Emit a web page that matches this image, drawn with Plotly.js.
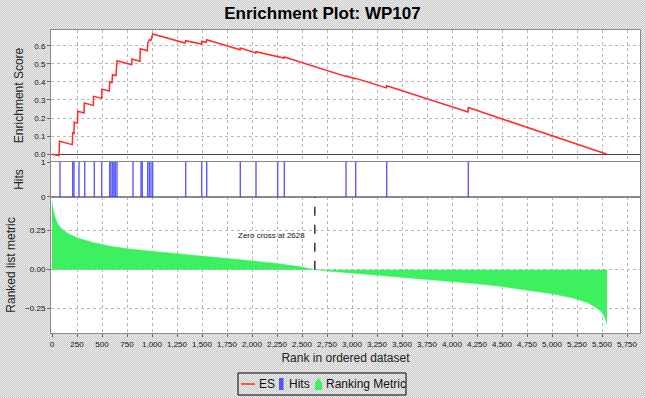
<!DOCTYPE html>
<html>
<head>
<meta charset="utf-8">
<script src="https://cdn.plot.ly/plotly-3.0.1.min.js"></script>
<style>
html,body{margin:0;padding:0;}
body{width:645px;height:398px;background:repeating-conic-gradient(#c4c4c4 0 25%, #f2f2f2 0 50%) 0 0/2px 2px;}
#chart{width:645px;height:398px;}
</style>
</head>
<body>
<div id="chart"></div>
<script>
// Running enrichment score (rank, ES)
const esRank  = [0, 70, 75, 203, 207, 220, 222, 255, 257, 320, 323, 413, 415, 497, 499, 573, 577, 600, 605, 640, 650, 797, 800, 880, 883, 953, 957, 975, 990, 1007, 1330, 1337, 1493, 1497, 1543, 1547, 1880, 1883, 2037, 2040, 2320, 2323, 2937, 2940, 3033, 3037, 3343, 3347, 4160, 4163, 5550];
const esValue = [0.0, -0.008, 0.072, 0.053, 0.118, 0.115, 0.177, 0.172, 0.238, 0.228, 0.283, 0.27, 0.32, 0.31, 0.36, 0.35, 0.40, 0.395, 0.44, 0.435, 0.517, 0.495, 0.527, 0.514, 0.583, 0.572, 0.615, 0.633, 0.63, 0.665, 0.615, 0.628, 0.609, 0.624, 0.62, 0.633, 0.578, 0.587, 0.56, 0.567, 0.532, 0.538, 0.43, 0.433, 0.417, 0.42, 0.367, 0.379, 0.234, 0.258, 0.0];

// Positions of the gene-set members (hits)
const hitRanks = [80, 207, 220, 270, 327, 423, 497, 577, 590, 607, 620, 633, 650, 810, 890, 903, 957, 973, 990, 1007, 1337, 1497, 1547, 1883, 2040, 2257, 2323, 2940, 3037, 3347, 4163];

// Ranked list metric (rank, value)
const metricRank  = [0, 10, 30, 60, 100, 150, 250, 400, 600, 800, 1000, 1250, 1500, 1750, 2000, 2250, 2500, 2628, 2750, 3000, 3250, 3500, 3750, 4000, 4250, 4500, 4750, 5000, 5200, 5350, 5450, 5500, 5530, 5550];
const metricValue = [0.44, 0.39, 0.34, 0.29, 0.26, 0.235, 0.205, 0.175, 0.148, 0.13, 0.118, 0.102, 0.088, 0.074, 0.058, 0.04, 0.017, 0.0, -0.008, -0.021, -0.034, -0.047, -0.06, -0.074, -0.09, -0.108, -0.13, -0.155, -0.18, -0.21, -0.245, -0.275, -0.31, -0.35];

const seriesNames = ['ES', 'Hits', 'Ranking Metric'];
const zeroCross = 2628;
const titleText = 'Enrichment Plot: WP107';

const FONT = 'Liberation Sans, Arial, sans-serif';
const xRange = [-10, 5880];
const ES_COLOR = '#ff2a2a', HIT_COLOR = 'rgba(50,50,255,0.8)', METRIC_COLOR = '#3cf060';

const traces = [
  {type:'scatter', mode:'lines', name:seriesNames[0], x:esRank, y:esValue,
   xaxis:'x2', yaxis:'y', line:{color:ES_COLOR, width:1.5}},
  {type:'bar', name:seriesNames[1], x:hitRanks, y:hitRanks.map(()=>1),
   xaxis:'x3', yaxis:'y2', width:14, marker:{color:HIT_COLOR, line:{width:0}}},
  {type:'scatter', mode:'lines', name:seriesNames[2], x:metricRank, y:metricValue,
   xaxis:'x', yaxis:'y3', fill:'tozeroy', fillcolor:METRIC_COLOR, line:{color:METRIC_COLOR, width:0.5}}
];

const gridCommon = {showgrid:true, gridcolor:'#b8b8b8', griddash:'dot', gridwidth:1,
  showline:true, linecolor:'#8a8a8a', linewidth:1, mirror:true, zeroline:false, automargin:false,
  tickfont:{size:8, family:FONT, color:'#111'}, ticks:'outside', ticklen:3, tickcolor:'#666'};

// pixel -> paper helpers for the hand-drawn legend box (plot area: x 51..640, y 30..333)
const px = v => (v - 51) / 589;
const py = v => (333 - v) / 303;

const legendShapes = [
  {type:'rect', xref:'paper', yref:'paper', x0:px(238), x1:px(406), y0:py(395), y1:py(373),
   line:{color:'#000', width:1}, fillcolor:'rgba(0,0,0,0)'},
  {type:'line', xref:'paper', yref:'paper', x0:px(241), x1:px(255), y0:py(384), y1:py(384),
   line:{color:ES_COLOR, width:1.5}},
  {type:'rect', xref:'paper', yref:'paper', x0:px(279), x1:px(283.5), y0:py(390), y1:py(378),
   line:{width:0}, fillcolor:HIT_COLOR},
  {type:'path', xref:'paper', yref:'paper',
   path:`M ${px(315)},${py(390)} L ${px(322)},${py(390)} L ${px(322)},${py(383)} L ${px(318.5)},${py(378)} L ${px(315)},${py(383)} Z`,
   line:{width:0}, fillcolor:METRIC_COLOR}
];
const legendLabels = [
  {x:px(257), text:seriesNames[0]},
  {x:px(287), text:seriesNames[1]},
  {x:px(324), text:seriesNames[2]}
].map(o => ({xref:'paper', yref:'paper', x:o.x, y:py(384), xanchor:'left', yanchor:'middle',
  text:o.text, showarrow:false, font:{size:12, family:FONT, color:'#111'}}));

const layout = {
  width:645, height:398,
  paper_bgcolor:'rgba(0,0,0,0)', plot_bgcolor:'#ffffff',
  margin:{l:51, r:5, t:30, b:65, autoexpand:false},
  showlegend:false,
  title:{text:'<b>'+titleText+'</b>', x:0.5, xanchor:'center', y:0.967, yanchor:'middle',
         font:{size:17, family:FONT, color:'#000'}},
  xaxis: Object.assign({}, gridCommon, {domain:[0,1], anchor:'y3', range:xRange, dtick:250, tick0:0,
         tickformat:',d', title:{text:'Rank in ordered dataset', font:{size:12, family:FONT, color:'#222'}, standoff:6}}),
  xaxis2: Object.assign({}, gridCommon, {domain:[0,1], anchor:'y', range:xRange, dtick:250, tick0:0,
         showticklabels:false, ticks:''}),
  xaxis3: Object.assign({}, gridCommon, {domain:[0,1], anchor:'y2', range:xRange, dtick:250, tick0:0,
         showticklabels:false, showgrid:false, ticks:''}),
  yaxis: Object.assign({}, gridCommon, {domain:[0.568,1], anchor:'x2', range:[-0.037,0.687], dtick:0.1, tick0:0,
         tickformat:'.1f', zeroline:true, zerolinecolor:'#444', zerolinewidth:1,
         title:{text:'Enrichment Score', font:{size:12, family:FONT, color:'#222'}, standoff:8}}),
  yaxis2: Object.assign({}, gridCommon, {domain:[0.449,0.564], anchor:'x3', range:[0,1], tickvals:[0,1], ticktext:['0','1'],
         showgrid:false,
         title:{text:'Hits', font:{size:12, family:FONT, color:'#222'}, standoff:14}}),
  yaxis3: Object.assign({}, gridCommon, {domain:[0,0.449], anchor:'x', range:[-0.406,0.466], dtick:0.25, tick0:0,
         tickformat:'.2f',
         title:{text:'Ranked list metric', font:{size:12, family:FONT, color:'#222'}, standoff:6}}),
  shapes:[{type:'line', xref:'x', yref:'y3', x0:zeroCross, x1:zeroCross, y0:0, y1:0.466,
           line:{color:'#333', width:1.5, dash:'dash'}}].concat(legendShapes),
  annotations:[{xref:'x', yref:'y3', x:zeroCross, y:0.22, xanchor:'right', yanchor:'middle', xshift:-8,
                text:'Zero cross at '+zeroCross, showarrow:false, font:{size:8, family:FONT, color:'#111'}}].concat(legendLabels)
};

Plotly.newPlot('chart', traces, layout, {displayModeBar:false, staticPlot:true});
</script>
</body>
</html>
